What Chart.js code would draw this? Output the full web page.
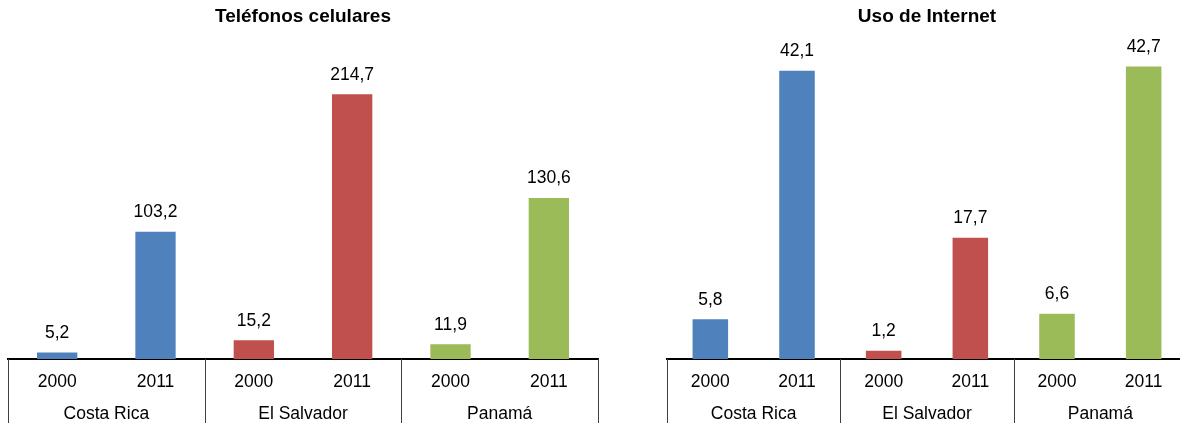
<!DOCTYPE html>
<html>
<head>
<meta charset="utf-8">
<script src="https://cdn.jsdelivr.net/npm/chart.js@4"></script>
<style>
  html, body { margin: 0; padding: 0; background: #fff; overflow: hidden; width: 1180px; height: 423px; }
  .panel { position: absolute; top: 0; height: 423px; }
  #p1 { left: 0; width: 606px; }
  #p2 { left: 600px; width: 654px; }
</style>
</head>
<body>
<div class="panel" id="p1"><canvas id="grafica1"></canvas></div>
<div class="panel" id="p2"><canvas id="grafica2"></canvas></div>
<script>
// datos
const paises = ["Costa Rica", "El Salvador", "Panamá"];
const anios = ["2000", "2011", "2000", "2011", "2000", "2011"];
const celulares = [5.2, 103.2, 15.2, 214.7, 11.9, 130.6];
const internet = [5.8, 42.1, 1.2, 17.7, 6.6, 42.7];
const colores = ["#4F81BD", "#4F81BD", "#C0504D", "#C0504D", "#9BBB59", "#9BBB59"];

Chart.defaults.font.family = "'Liberation Sans', Arial, sans-serif";
Chart.defaults.color = "#000";

// etiquetas encima de las barras
const etiquetas = {
  id: "etiquetas",
  afterDatasetsDraw(chart) {
    const ctx = chart.ctx;
    ctx.save();
    ctx.font = "17.5px 'Liberation Sans', Arial, sans-serif";
    ctx.fillStyle = "#000";
    ctx.textAlign = "center";
    ctx.textBaseline = "middle";
    chart.getDatasetMeta(0).data.forEach((bar, i) => {
      let v = chart.data.datasets[0].data[i];
      ctx.fillText(v.toFixed(1).replace(".", ","), bar.x, bar.y - 19.5);
    });
    ctx.restore();
  }
};

// lineas separadoras entre paises
const separadores = {
  id: "separadores",
  afterDraw(chart) {
    const ctx = chart.ctx;
    const x = chart.scales.x;
    ctx.save();
    ctx.strokeStyle = "#404040";
    ctx.lineWidth = 1;
    [-0.5, 1.5, 3.5, 5.5].forEach(v => {
      let px = Math.round(x.getPixelForValue(v)) + 0.5;
      ctx.beginPath();
      ctx.moveTo(px, chart.chartArea.bottom);
      ctx.lineTo(px, chart.height);
      ctx.stroke();
    });
    ctx.restore();
  }
};

function crearGrafica(id, titulo, datos, maximo, izq, der) {
  return new Chart(document.getElementById(id), {
    type: "bar",
    data: {
      labels: anios,
      datasets: [{
        data: datos,
        backgroundColor: colores,
        categoryPercentage: 1,
        barPercentage: 0.41
      }]
    },
    options: {
      responsive: true,
      maintainAspectRatio: false,
      animation: false,
      layout: { padding: { left: izq, right: der, top: 0, bottom: 0 } },
      plugins: {
        legend: { display: false },
        tooltip: { enabled: false },
        title: {
          display: true,
          text: titulo,
          font: { size: 19, weight: "bold" },
          padding: { top: 5, bottom: 23 }
        }
      },
      scales: {
        y: { display: false, min: 0, max: maximo },
        x: {
          offset: true,
          grid: { display: false, drawTicks: false },
          border: { display: true, color: "#000", width: 2 },
          ticks: { font: { size: 17.5 }, padding: 13, color: "#000" },
          afterFit: s => { s.height = 30; }
        },
        x2: {
          type: "category",
          position: "bottom",
          labels: paises,
          offset: true,
          grid: { display: false, drawTicks: false },
          border: { display: false },
          ticks: { font: { size: 17.5 }, padding: 15, color: "#000" },
          afterFit: s => { s.height = 34; }
        }
      }
    },
    plugins: [etiquetas, separadores]
  });
}

crearGrafica("grafica1", "Teléfonos celulares", celulares, 250, 8, 8);
crearGrafica("grafica2", "Uso de Internet", internet, 45, 67, 67);
</script>
</body>
</html>
